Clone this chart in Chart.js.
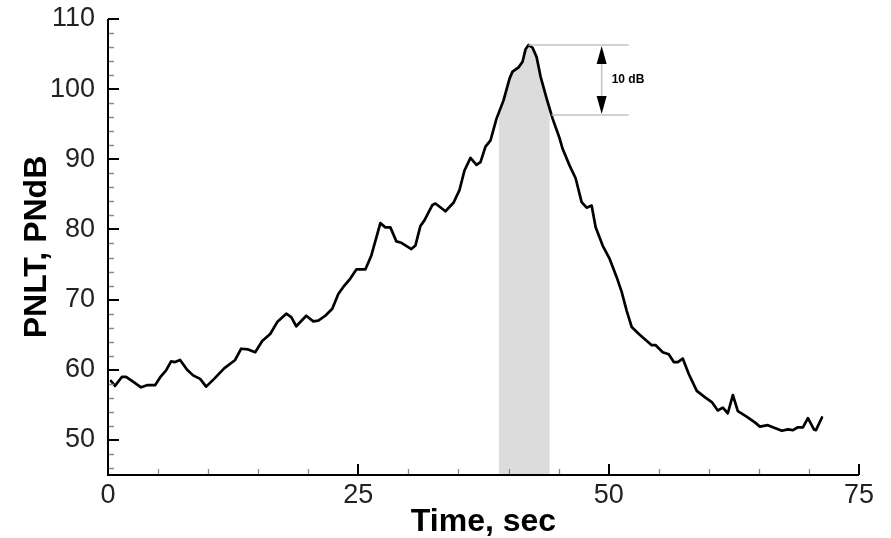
<!DOCTYPE html>
<html>
<head>
<meta charset="utf-8">
<script src="https://cdn.jsdelivr.net/npm/chart.js@4.4.1/dist/chart.umd.min.js"></script>
<style>
  html, body { margin: 0; padding: 0; background: #ffffff; }
  #wrap { width: 891px; height: 538px; }
</style>
</head>
<body>
<div id="wrap"><canvas id="c" width="891" height="538"></canvas></div>
<script>
// ---- data ----
const timeSec = [0.3,0.7,1.4,1.8,2.5,3.3,3.9,4.7,5.2,5.8,6.3,6.7,7.2,7.9,8.5,9.2,9.8,10.6,11.6,12.7,
  13.3,14.0,14.7,15.4,16.2,16.9,17.8,18.3,18.8,19.8,20.5,21.0,21.7,22.4,23.0,23.5,24.2,24.8,25.7,26.3,
  27.2,27.7,28.2,28.8,29.3,30.3,30.7,31.2,31.6,32.4,32.7,33.7,34.5,35.1,35.6,36.2,36.8,37.2,37.7,38.2,
  38.8,39.5,40.1,40.4,41.0,41.4,41.7,42.0,42.4,42.8,43.2,43.8,44.4,45.1,45.4,46.1,46.7,47.3,47.8,48.3,
  48.7,49.4,50.1,50.8,51.3,51.8,52.3,53.1,54.3,54.7,55.4,56.0,56.5,56.9,57.4,58.0,58.8,59.6,60.3,60.9,
  61.4,61.9,62.4,62.9,63.7,64.6,65.1,65.9,66.4,67.3,67.9,68.4,68.9,69.4,69.9,70.5,70.7,71.3];
const pnltDb = [58.4,57.7,59.0,59.0,58.3,57.5,57.8,57.8,58.9,59.9,61.2,61.1,61.4,60.0,59.2,58.7,57.6,58.7,60.2,61.4,
  63.0,62.9,62.5,64.1,65.1,66.8,68.0,67.5,66.2,67.7,66.9,67.0,67.7,68.7,70.8,71.8,73.0,74.3,74.3,76.3,
  80.9,80.3,80.3,78.3,78.1,77.2,77.7,80.5,81.3,83.5,83.7,82.6,83.8,85.6,88.4,90.2,89.2,89.6,91.8,92.7,
  95.8,98.4,101.5,102.5,103.1,103.9,105.7,106.3,105.9,104.6,101.8,98.7,95.8,93.0,91.5,89.1,87.3,83.9,83.1,83.4,
  80.3,77.7,75.8,73.2,71.1,68.4,66.1,65.0,63.5,63.5,62.5,62.2,61.1,61.1,61.6,59.4,57.0,56.1,55.4,54.2,
  54.6,53.8,56.4,54.1,53.4,52.5,51.9,52.1,51.8,51.3,51.5,51.4,51.8,51.8,53.1,51.5,51.4,53.2];

const xTickLabels = [0, 25, 50, 75];
const yTickLabels = [50, 60, 70, 80, 90, 100, 110];
const xRange = [0, 75];
const yRange = [45, 110];

// shaded duration band (sec)
const shadeBand = [39.05, 44.1];
// 10 dB-down annotation
const downDb = 10;
const peakLevel = Math.max(...pnltDb);
const peakTime = timeSec[pnltDb.indexOf(peakLevel)];
const downLineStart = 44.3;   // where the lower line meets the curve
const annotLineEnd = 52.0;
const arrowTime = 49.3;
const annotText = "10 dB";

const FONT = "'Liberation Sans', Arial, Helvetica, sans-serif";

const drawPlugin = {
  id: 'customDraw',
  beforeDatasetsDraw(chart) {
    const ctx = chart.ctx, xs = chart.scales.x, ys = chart.scales.y, a = chart.chartArea;
    const x1 = xs.getPixelForValue(shadeBand[0]), x2 = xs.getPixelForValue(shadeBand[1]);
    ctx.save();
    ctx.beginPath();
    ctx.rect(x1, a.top, x2 - x1, a.bottom - a.top);
    ctx.clip();
    ctx.beginPath();
    ctx.moveTo(xs.getPixelForValue(timeSec[0]), ys.getPixelForValue(yRange[0]));
    for (let i = 0; i < timeSec.length; i++) {
      ctx.lineTo(xs.getPixelForValue(timeSec[i]), ys.getPixelForValue(pnltDb[i]));
    }
    ctx.lineTo(xs.getPixelForValue(timeSec[timeSec.length - 1]), ys.getPixelForValue(yRange[0]));
    ctx.closePath();
    ctx.fillStyle = '#dcdcdc';
    ctx.fill();
    ctx.restore();
  },
  afterDatasetsDraw(chart) {
    const ctx = chart.ctx, xs = chart.scales.x, ys = chart.scales.y, a = chart.chartArea;
    ctx.save();
    // minor ticks
    ctx.strokeStyle = '#8a8a8a';
    ctx.lineWidth = 1.3;
    ctx.beginPath();
    for (let v = yRange[0] + 1; v < yRange[1]; v += 2) {
      if (v % 10 === 0) continue;
      const y = Math.round(ys.getPixelForValue(v)) + 0.5;
      ctx.moveTo(a.left, y); ctx.lineTo(a.left + 6, y);
    }
    for (let t = xRange[0] + 5; t < xRange[1]; t += 5) {
      if (t % 25 === 0) continue;
      const x = Math.round(xs.getPixelForValue(t)) + 0.5;
      ctx.moveTo(x, a.bottom); ctx.lineTo(x, a.bottom - 6);
    }
    ctx.stroke();
    // major ticks
    ctx.strokeStyle = '#000';
    ctx.lineWidth = 2;
    ctx.beginPath();
    yTickLabels.forEach(v => {
      const y = Math.round(ys.getPixelForValue(v));
      ctx.moveTo(a.left, y); ctx.lineTo(a.left + 11, y);
    });
    xTickLabels.forEach(t => {
      const x = Math.round(xs.getPixelForValue(t));
      ctx.moveTo(x, a.bottom); ctx.lineTo(x, a.bottom - 11);
    });
    ctx.stroke();
    // axis lines
    ctx.beginPath();
    ctx.lineWidth = 2;
    ctx.moveTo(Math.round(a.left), Math.round(a.top));
    ctx.lineTo(Math.round(a.left), Math.round(a.bottom));
    ctx.lineTo(Math.round(a.right), Math.round(a.bottom));
    ctx.stroke();

    // 10 dB annotation
    const yPeak = ys.getPixelForValue(peakLevel);
    const yDown = ys.getPixelForValue(peakLevel - downDb);
    const xEnd = xs.getPixelForValue(annotLineEnd);
    ctx.strokeStyle = '#c4c4c4';
    ctx.lineWidth = 1.5;
    ctx.beginPath();
    ctx.moveTo(xs.getPixelForValue(peakTime), yPeak); ctx.lineTo(xEnd, yPeak);
    ctx.moveTo(xs.getPixelForValue(downLineStart), yDown); ctx.lineTo(xEnd, yDown);
    const xa = xs.getPixelForValue(arrowTime);
    ctx.moveTo(xa, yPeak + 10); ctx.lineTo(xa, yDown - 10);
    ctx.stroke();
    ctx.fillStyle = '#000';
    ctx.beginPath();
    ctx.moveTo(xa, yPeak + 1); ctx.lineTo(xa - 5, yPeak + 19); ctx.lineTo(xa + 5, yPeak + 19); ctx.closePath();
    ctx.moveTo(xa, yDown - 1); ctx.lineTo(xa - 5, yDown - 19); ctx.lineTo(xa + 5, yDown - 19); ctx.closePath();
    ctx.fill();
    ctx.font = "bold 12px " + FONT;
    ctx.textAlign = 'left';
    ctx.textBaseline = 'middle';
    ctx.fillText(annotText, xa + 10, (yPeak + yDown) / 2);
    ctx.restore();
  }
};

new Chart(document.getElementById('c'), {
  type: 'scatter',
  data: {
    datasets: [{
      data: timeSec.map((t, i) => ({ x: t, y: pnltDb[i] })),
      showLine: true,
      borderColor: '#000',
      borderWidth: 2.7,
      borderJoinStyle: 'round',
      borderCapStyle: 'round',
      pointRadius: 0,
      tension: 0,
      fill: false
    }]
  },
  options: {
    responsive: false,
    animation: false,
    devicePixelRatio: 1,
    layout: { padding: { top: 19, right: 32, left: 0, bottom: 0 } },
    plugins: { legend: { display: false }, tooltip: { enabled: false } },
    scales: {
      x: {
        type: 'linear',
        min: xRange[0], max: xRange[1],
        grid: { display: false, drawTicks: false },
        border: { display: false },
        afterBuildTicks: s => { s.ticks = xTickLabels.map(v => ({ value: v })); },
        afterFit: s => { s.height = 63; s.paddingLeft = 0; s.paddingRight = 0; },
        ticks: { color: '#222', font: { family: FONT, size: 27 }, padding: 4, maxRotation: 0 },
        title: {
          display: true, text: 'Time, sec', color: '#000',
          font: { family: FONT, size: 32, weight: 'bold', lineHeight: 1 },
          padding: { top: 0, bottom: 0 }
        }
      },
      y: {
        type: 'linear',
        min: yRange[0], max: yRange[1],
        grid: { display: false, drawTicks: false },
        border: { display: false },
        afterBuildTicks: s => { s.ticks = yTickLabels.map(v => ({ value: v })); },
        afterFit: s => { s.width = 108; s.paddingTop = 0; s.paddingBottom = 0; },
        ticks: { color: '#222', font: { family: FONT, size: 27 }, padding: 13 },
        title: {
          display: true, text: 'PNLT, PNdB', color: '#000',
          font: { family: FONT, size: 32, weight: 'bold', lineHeight: 1 },
          padding: { top: 21, bottom: 0 }
        }
      }
    }
  },
  plugins: [drawPlugin]
});
</script>
</body>
</html>
